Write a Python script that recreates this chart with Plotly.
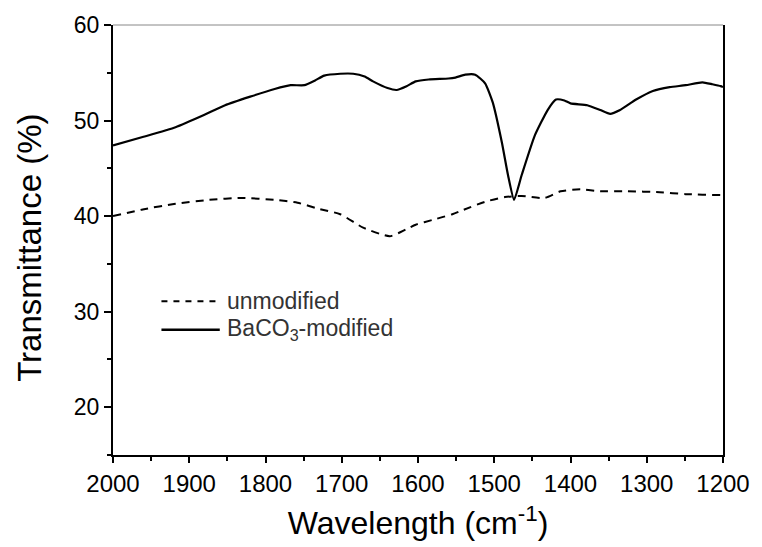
import plotly.graph_objects as go

# BaCO3-modified (solid)
wn_mod = [2000, 1960, 1918, 1880, 1853, 1820, 1788, 1767, 1749, 1735, 1723, 1702, 1685,
          1670, 1659, 1640, 1628, 1615, 1603, 1586, 1560, 1551, 1538, 1525, 1512, 1502,
          1490, 1482, 1474, 1464, 1447, 1430, 1419, 1408, 1400, 1378, 1361, 1348, 1335,
          1314, 1292, 1270, 1249, 1227, 1214, 1203, 1200]
tr_mod = [47.4, 48.3, 49.3, 50.6, 51.6, 52.5, 53.3, 53.7, 53.7, 54.2, 54.7, 54.9, 54.9,
          54.6, 54.1, 53.4, 53.2, 53.6, 54.1, 54.3, 54.4, 54.5, 54.8, 54.8, 53.9, 51.9,
          47.7, 44.3, 41.7, 44.3, 48.4, 51.1, 52.2, 52.1, 51.8, 51.6, 51.1, 50.7, 51.1,
          52.2, 53.1, 53.5, 53.7, 54.0, 53.8, 53.6, 53.5]

# unmodified (dashed)
wn_un = [2000, 1961, 1918, 1874, 1831, 1788, 1758, 1732, 1702, 1672, 1637, 1616, 1603,
         1581, 1555, 1542, 1512, 1486, 1464, 1434, 1413, 1387, 1361, 1326, 1283, 1249,
         1203, 1200]
tr_un = [40.0, 40.7, 41.3, 41.7, 41.9, 41.7, 41.4, 40.8, 40.2, 38.8, 37.9, 38.6, 39.1,
         39.6, 40.2, 40.6, 41.5, 42.0, 42.1, 41.9, 42.6, 42.8, 42.6, 42.6, 42.5, 42.3,
         42.2, 42.2]

x_ticks = [2000, 1900, 1800, 1700, 1600, 1500, 1400, 1300, 1200]
y_ticks = [20, 30, 40, 50, 60]
series_names = ["unmodified", "BaCO<sub>3</sub>-modified"]

FONT = "Liberation Sans, Arial, sans-serif"
DASH = "8px,6px"

fig = go.Figure()
fig.add_trace(go.Scatter(x=wn_un, y=tr_un, mode="lines", name=series_names[0],
                         line=dict(color="black", width=2, dash=DASH,
                                   shape="spline", smoothing=0.6)))
fig.add_trace(go.Scatter(x=wn_mod, y=tr_mod, mode="lines", name=series_names[1],
                         line=dict(color="black", width=2.2, shape="spline", smoothing=0.5)))

W, H = 762, 547
ML, MR, MT, MB = 113, 32, 21, 90
PW, PH = W - ML - MR, H - MT - MB

def px_x(p):
    return (p - ML) / PW

def px_y(p):
    return (H - MB - p) / PH

fig.update_layout(
    width=W, height=H,
    margin=dict(l=ML, r=MR, t=MT, b=MB),
    paper_bgcolor="white", plot_bgcolor="white",
    font=dict(family=FONT, color="black"),
    showlegend=False,
    xaxis=dict(range=[2000, 1200], tickvals=x_ticks, ticktext=[str(v) for v in x_ticks],
               showgrid=False, zeroline=False, showline=True, linecolor="black", linewidth=2,
               ticks="outside", ticklen=6, tickwidth=2, tickcolor="black",
               minor=dict(dtick=50, ticks="outside", ticklen=4, tickwidth=2, tickcolor="black"),
               tickfont=dict(size=24, family=FONT),
               title=dict(text="Wavelength (cm<sup>-1</sup>)", font=dict(size=32, family=FONT),
                          standoff=16)),
    yaxis=dict(range=[15, 60], tickvals=y_ticks, ticktext=[str(v) for v in y_ticks],
               showgrid=False, zeroline=False, showline=True, linecolor="black", linewidth=2,
               mirror=True,
               ticks="outside", ticklen=7, tickwidth=2, tickcolor="black",
               minor=dict(dtick=5, ticks="outside", ticklen=4, tickwidth=2, tickcolor="black"),
               tickfont=dict(size=23, family=FONT)),
)
# y-axis title, placed like the reference (slightly below the plot centre)
fig.add_annotation(xref="paper", yref="paper", x=px_x(29), y=px_y(247),
                   xanchor="center", yanchor="middle", textangle=-90,
                   text="Transmittance (%)", showarrow=False,
                   font=dict(size=33, family=FONT, color="black"))

# thin grey top frame line
fig.add_shape(type="line", xref="paper", yref="paper", x0=0, x1=1, y0=1, y1=1,
              line=dict(color="#888", width=1))

# manual legend (long line samples as in the reference)
rows = [(301, dict(color="black", width=2, dash="6px,6px")),
        (330, dict(color="black", width=2.5))]
for (yp, ln), name in zip(rows, series_names):
    fig.add_shape(type="line", xref="paper", yref="paper",
                  x0=px_x(162), x1=px_x(221), y0=px_y(yp), y1=px_y(yp), line=ln)
    fig.add_annotation(xref="paper", yref="paper", x=px_x(226), y=px_y(yp),
                       xanchor="left", yanchor="middle", text=name, showarrow=False,
                       font=dict(size=23, family=FONT, color="#333"))

fig.write_html("out.html")
